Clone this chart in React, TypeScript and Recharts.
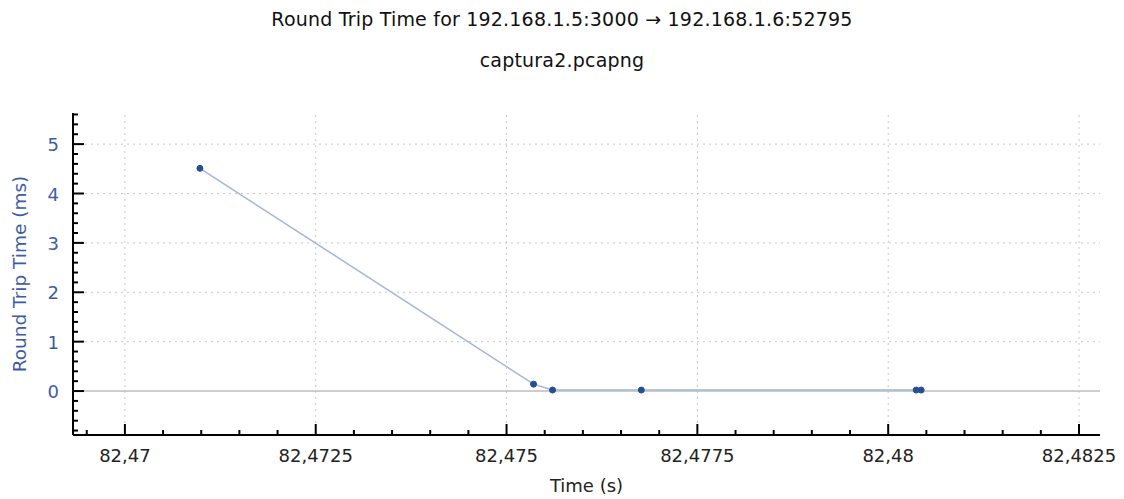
import React from "react";
import {
  LineChart,
  Line,
  XAxis,
  YAxis,
  ReferenceLine,
} from "recharts";

// capture timestamps (s) and measured round trip times (ms)
const times = [82.470983, 82.475354, 82.475603, 82.476766, 82.480367, 82.480432];
const rtts = [4.51, 0.14, 0.02, 0.02, 0.02, 0.02];

const xMajor = [82.47, 82.4725, 82.475, 82.4775, 82.48, 82.4825];
const yMajor = [0, 1, 2, 3, 4, 5];

const X_DOMAIN: [number, number] = [82.46932, 82.482775];
const Y_DOMAIN: [number, number] = [-0.89, 5.63];

const FONT = "'DejaVu Sans', Tahoma, sans-serif";
const LABEL_BLUE = "#3c5da6";
const GRID = "#c8c8c8";

const data = times.map((t, i) => ({ t, rtt: rtts[i] }));

// 4 minor ticks between each pair of majors, filling the whole domain
function withMinor(majors: number[], parts: number, lo: number, hi: number) {
  const step = (majors[1] - majors[0]) / parts;
  const out: number[] = [];
  const start = majors[0] - Math.floor((majors[0] - lo) / step) * step;
  for (let v = start; v <= hi + 1e-9; v += step) out.push(+v.toFixed(6));
  return out;
}

const xTicks = withMinor(xMajor, 5, X_DOMAIN[0], X_DOMAIN[1]);
const yTicks = withMinor(yMajor, 5, Y_DOMAIN[0], Y_DOMAIN[1]);

const isMajor = (list: number[], v: number) =>
  list.some((m) => Math.abs(m - v) < 1e-7);

const fmt = (v: number) => String(v).replace(".", ",");

function XTick(props: any) {
  const { x, y, payload } = props;
  const major = isMajor(xMajor, payload.value);
  return (
    <g>
      <line x1={x} x2={x} y1={y} y2={y - (major ? 11 : 5)} stroke="#000" strokeWidth={2} />
      {major && (
        <text x={x} y={y + 27} textAnchor="middle" fill="#222" fontSize={18} fontFamily={FONT}>
          {fmt(payload.value)}
        </text>
      )}
    </g>
  );
}

function YTick(props: any) {
  const { x, y, payload } = props;
  const major = isMajor(yMajor, payload.value);
  return (
    <g>
      <line x1={x} x2={x + (major ? 11 : 5)} y1={y} y2={y} stroke="#000" strokeWidth={2} />
      {major && (
        <text x={x - 14} y={y + 7} textAnchor="end" fill={LABEL_BLUE} fontSize={18} fontFamily={FONT}>
          {payload.value}
        </text>
      )}
    </g>
  );
}

const titleStyle: React.CSSProperties = {
  position: "absolute",
  width: 1124,
  textAlign: "center",
  fontFamily: FONT,
  fontSize: 19,
  letterSpacing: 0.2,
  color: "#111",
  lineHeight: "22px",
};

export default function App() {
  return (
    <div style={{ position: "absolute", left: 0, top: 0, width: 1124, height: 499, background: "#fff" }}>
      <div style={{ ...titleStyle, top: 8 }}>
        Round Trip Time for 192.168.1.5:3000 → 192.168.1.6:52795
      </div>
      <div style={{ ...titleStyle, top: 49 }}>captura2.pcapng</div>
      <LineChart
        width={1124}
        height={499}
        data={data}
        margin={{ top: 113, right: 24, bottom: 0, left: 0 }}
      >
        {xMajor.map((v) => (
          <ReferenceLine key={"gx" + v} x={v} stroke={GRID} strokeDasharray="2 4" />
        ))}
        {yMajor
          .filter((v) => v !== 0)
          .map((v) => (
            <ReferenceLine key={"gy" + v} y={v} stroke={GRID} strokeDasharray="2 4" />
          ))}
        <ReferenceLine y={0} stroke="#bdbdbd" strokeWidth={1.5} />
        <XAxis
          dataKey="t"
          type="number"
          domain={X_DOMAIN}
          ticks={xTicks}
          interval={0}
          allowDataOverflow
          height={64}
          tickLine={false}
          tickSize={0}
          tickMargin={0}
          tick={<XTick />}
          axisLine={{ stroke: "#000", strokeWidth: 2 }}
          label={{
            value: "Time (s)",
            position: "insideBottom",
            offset: 7,
            fill: "#222",
            fontSize: 18,
            fontFamily: FONT,
          }}
        />
        <YAxis
          type="number"
          domain={Y_DOMAIN}
          ticks={yTicks}
          interval={0}
          allowDataOverflow
          width={73}
          tickLine={false}
          tickSize={0}
          tickMargin={0}
          tick={<YTick />}
          axisLine={{ stroke: "#000", strokeWidth: 2 }}
          label={{
            value: "Round Trip Time (ms)",
            angle: -90,
            position: "insideLeft",
            offset: 19,
            style: { textAnchor: "middle" },
            fill: LABEL_BLUE,
            fontSize: 18.5,
            fontFamily: FONT,
          }}
        />
        <Line
          dataKey="rtt"
          type="linear"
          stroke="#a4b6d6"
          strokeWidth={1.5}
          dot={{ r: 3, fill: "#24508f", stroke: "#24508f", strokeWidth: 1 }}
          isAnimationActive={false}
        />
      </LineChart>
    </div>
  );
}
